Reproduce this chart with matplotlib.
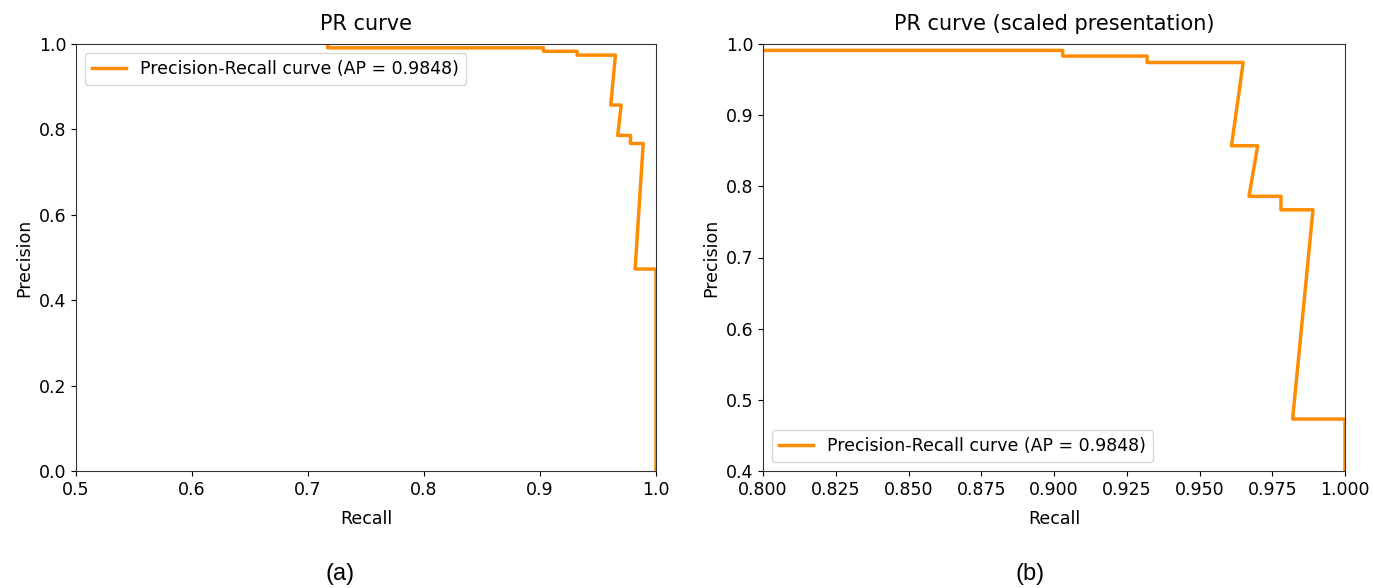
import matplotlib
matplotlib.use("Agg")
import matplotlib.pyplot as plt
import numpy as np

# ── Data (vertices of the PR curve as drawn) ───────────────────────────────
recall = [0.717, 0.717, 0.903, 0.903, 0.932, 0.932, 0.965, 0.961,
          0.970, 0.967, 0.978, 0.978, 0.989, 0.982, 1.000, 1.000]
precision = [1.000, 0.991, 0.991, 0.983, 0.983, 0.974, 0.974, 0.857,
             0.857, 0.786, 0.786, 0.767, 0.767, 0.473, 0.473, 0.000]
ap = 0.9848
label = f"Precision-Recall curve (AP = {ap:.4f})"

xticks_a = [0.5, 0.6, 0.7, 0.8, 0.9, 1.0]
yticks_a = [0.0, 0.2, 0.4, 0.6, 0.8, 1.0]
xticks_b = [0.800, 0.825, 0.850, 0.875, 0.900, 0.925, 0.950, 0.975, 1.000]
yticks_b = [0.4, 0.5, 0.6, 0.7, 0.8, 0.9, 1.0]

plt.rcParams["font.family"] = ["DejaVu Sans"]
FS = 12.5

fig = plt.figure(figsize=(13.73, 5.88), dpi=100)
W, H = 1373, 588
ax_a = fig.add_axes([76 / W, (H - 471) / H, 580 / W, 427 / H])
ax_b = fig.add_axes([763 / W, (H - 471) / H, 582 / W, 427 / H])

panels = [
    (ax_a, "PR curve", (0.5, 1.0), (0.0, 1.0), xticks_a, yticks_a, "{:.1f}", "upper left"),
    (ax_b, "PR curve (scaled presentation)", (0.8, 1.0), (0.4, 1.0), xticks_b, yticks_b, "{:.3f}", "lower left"),
]
for ax, title, xl, yl, xt, yt, xfmt, loc in panels:
    ax.plot(recall, precision, color="darkorange", lw=2.5, label=label)
    ax.set_xlim(*xl)
    ax.set_ylim(*yl)
    ax.set_xticks(xt)
    ax.set_xticklabels([xfmt.format(v) for v in xt], fontsize=FS)
    ax.set_yticks(yt)
    ax.set_yticklabels([f"{v:.1f}" for v in yt], fontsize=FS)
    ax.set_xlabel("Recall", fontsize=FS, labelpad=8)
    ax.set_ylabel("Precision", fontsize=FS)
    ax.set_title(title, fontsize=15, pad=10)
    ax.legend(loc=loc, fontsize=FS)
    for s in ax.spines.values():
        s.set_color("#333333")

fig.text(340 / W, 1 - 574 / H, "(a)", ha="center", va="center",
         fontsize=17, family=["Liberation Sans", "DejaVu Sans"])
fig.text(1030 / W, 1 - 574 / H, "(b)", ha="center", va="center",
         fontsize=17, family=["Liberation Sans", "DejaVu Sans"])

fig.savefig("out.png", dpi=100)
